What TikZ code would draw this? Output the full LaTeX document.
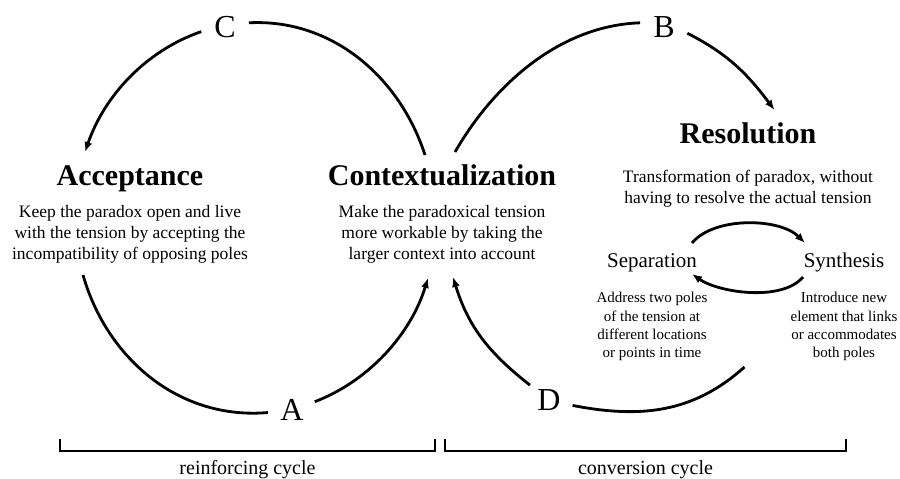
\documentclass[tikz,border=0pt]{standalone}
\usepackage{fontspec}
\setmainfont{Liberation Serif}
\usetikzlibrary{arrows.meta, positioning, calc}

\begin{document}
\begin{tikzpicture}[
    x=1pt, y=1pt,
    >={Latex[length=10pt, width=8pt]},
    arc/.style={line width=2.8pt},
    phase/.style={
        font=\fontsize{30}{36}\selectfont\bfseries,
        inner sep=0pt,
        text height=21pt,
        text depth=7pt
    },
    desc/.style={
        font=\fontsize{17.5}{21}\selectfont,
        align=center,
        inner sep=0pt
    },
    tactic/.style={
        font=\fontsize{21}{25}\selectfont,
        inner sep=0pt,
        text height=15pt,
        text depth=5pt
    },
    note/.style={
        font=\fontsize{15}{18.3}\selectfont,
        align=center,
        inner sep=0pt
    },
    letter/.style={
        circle,
        minimum size=48pt,
        inner sep=0pt,
        font=\fontsize{32}{36}\selectfont
    },
    cyclelabel/.style={
        font=\fontsize{20}{24}\selectfont,
        inner sep=0pt
    },
    bracket/.style={line width=1.6pt}
]

\path[use as bounding box, fill=white] (0,0) rectangle (900,-479);

% Letters
\node[letter] (C) at (225,-27) {C};
\node[letter] (B) at (664,-27) {B};
\node[letter] (A) at (292,-410) {A};
\node[letter] (D) at (549,-400) {D};

% Phases
\node[phase, anchor=base] (acc) at (130,-185) {Acceptance};
\node[phase, anchor=base] (ctx) at (442,-185) {Contextualization};
\node[phase, anchor=base] (res) at (748,-143) {Resolution};

\node[desc, below=13pt of acc] (acctext) {Keep the paradox open and live\\with the tension by accepting the\\incompatibility of opposing poles};
\node[desc, below=13pt of ctx] (ctxtext) {Make the paradoxical tension\\more workable by taking the\\larger context into account};
\node[desc, below=20pt of res] (restext) {Transformation of paradox, without\\having to resolve the actual tension};

% Separation and synthesis
\node[tactic, anchor=base] (sep) at (652,-267) {Separation};
\node[tactic, anchor=base] (syn) at (844,-267) {Synthesis};
\node[note, below=20pt of sep] (septext) {Address two poles\\of the tension at\\different locations\\or points in time};
\node[note, below=20pt of syn] (syntext) {Introduce new\\element that links\\or accommodates\\both poles};

% Reinforcing cycle
\draw[arc, ->] (C.191) to[out=199, in=71, looseness=0.9] ($(acc.base)+(-45,33)$);
\draw[arc] ($(acc.base)+(-47,-90)$) to[out=286, in=185, looseness=0.98] (A.186);
\draw[arc, ->] (A.20) to[out=21, in=253, looseness=0.89] ($(ctx.base)+(-14,-93)$);
\draw[arc] ($(ctx.base)+(-17,30)$) to[out=108, in=3, looseness=0.96] (C.10);

% Conversion cycle
\draw[arc] ($(ctx.base)+(13,33)$) to[out=60, in=182, looseness=0.9] (B.170);
\draw[arc, ->] (B.345) to[out=-27, in=127] ($(res.base)+(26.5,33)$);
\draw[arc] ($(res.base)+(-3.5,-224)$) to[out=222, in=349] (D.347);
\draw[arc, ->] (D.142) to[out=142, in=287] ($(ctx.base)+(11,-92)$);

% Small cycle
\draw[arc, ->] ($(sep.base)+(40,24)$) to[out=50, in=135, looseness=0.8] ($(syn.base)+(-39,24)$);
\draw[arc, ->] ($(syn.base)+(-41,-10)$) to[out=230, in=325, looseness=0.75] ($(sep.base)+(40,-7)$);

% Brackets
\node[cyclelabel, anchor=base] (reinf) at (247.5,-474) {reinforcing cycle};
\node[cyclelabel, anchor=base] (conv) at (645.5,-474) {conversion cycle};
\draw[bracket] (60,-439) |- (435,-451) -- (435,-439);
\draw[bracket] (445,-439) |- (846,-451) -- (846,-439);

\end{tikzpicture}
\end{document}
